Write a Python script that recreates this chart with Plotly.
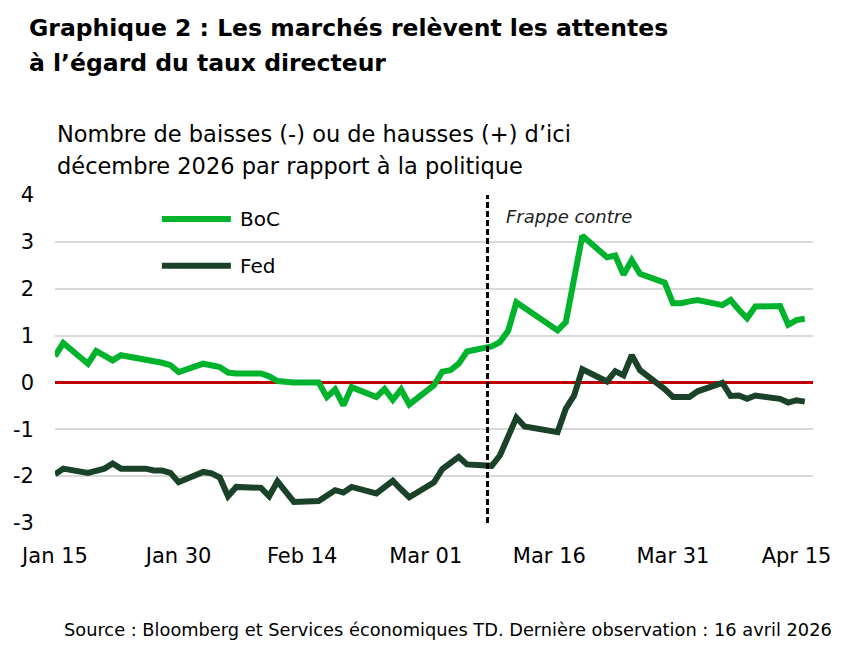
import pandas as pd
import plotly.graph_objects as go

## Données (jours ouvrables)
dates = [
    "2026-01-15", "2026-01-16", "2026-01-19", "2026-01-20", "2026-01-21", "2026-01-22", "2026-01-23",
    "2026-01-26", "2026-01-27", "2026-01-28", "2026-01-29", "2026-01-30",
    "2026-02-02", "2026-02-03", "2026-02-04", "2026-02-05", "2026-02-06",
    "2026-02-09", "2026-02-10", "2026-02-11", "2026-02-12", "2026-02-13",
    "2026-02-16", "2026-02-17", "2026-02-18", "2026-02-19", "2026-02-20",
    "2026-02-23", "2026-02-24", "2026-02-25", "2026-02-26", "2026-02-27",
    "2026-03-02", "2026-03-03", "2026-03-04", "2026-03-05", "2026-03-06",
    "2026-03-09", "2026-03-10", "2026-03-11", "2026-03-12", "2026-03-13",
    "2026-03-16", "2026-03-17", "2026-03-18", "2026-03-19", "2026-03-20",
    "2026-03-23", "2026-03-24", "2026-03-25", "2026-03-26", "2026-03-27",
    "2026-03-30", "2026-03-31", "2026-04-01", "2026-04-02", "2026-04-03",
    "2026-04-06", "2026-04-07", "2026-04-08", "2026-04-09", "2026-04-10",
    "2026-04-13", "2026-04-14", "2026-04-15", "2026-04-16",
]
boc = [
    0.56, 0.84, 0.40, 0.67, 0.57, 0.47, 0.58,
    0.48, 0.47, 0.42, 0.37, 0.22,
    0.40, 0.35, 0.33, 0.21, 0.19,
    0.19, 0.13, 0.03, 0.00, 0.00,
    0.00, -0.31, -0.15, -0.49, -0.10,
    -0.31, -0.14, -0.37, -0.15, -0.47,
    -0.06, 0.23, 0.26, 0.40, 0.66,
    0.77, 0.86, 1.10, 1.71, 1.59,
    1.23, 1.11, 1.29, 2.20, 3.13,
    2.67, 2.71, 2.30, 2.61, 2.32,
    2.13, 1.69, 1.69, 1.73, 1.76,
    1.65, 1.76, 1.55, 1.37, 1.62,
    1.63, 1.23, 1.33, 1.36,
]
fed = [
    -1.96, -1.84, -1.93, -1.89, -1.84, -1.73, -1.84,
    -1.84, -1.88, -1.88, -1.93, -2.13,
    -1.91, -1.94, -2.03, -2.43, -2.23,
    -2.25, -2.43, -2.11, -2.35, -2.55,
    -2.53, -2.41, -2.30, -2.35, -2.23,
    -2.37, -2.23, -2.10, -2.28, -2.45,
    -2.13, -1.85, -1.72, -1.59, -1.75,
    -1.78, -1.56, -1.17, -0.75, -0.94,
    -1.03, -1.06, -0.56, -0.28, 0.28,
    0.02, 0.24, 0.15, 0.58, 0.26,
    -0.14, -0.31, -0.31, -0.31, -0.19,
    -0.01, -0.29, -0.28, -0.35, -0.28,
    -0.35, -0.43, -0.38, -0.41,
]
tick_dates = ["2026-01-15", "2026-01-30", "2026-02-14", "2026-03-01", "2026-03-16", "2026-03-31", "2026-04-15"]
tick_labels = ["Jan 15", "Jan 30", "Feb 14", "Mar 01", "Mar 16", "Mar 31", "Apr 15"]
y_ticks = [-3, -2, -1, 0, 1, 2, 3, 4]
y_labels = ["-3", "-2", "-1", "0", "1", "2", "3", "4"]
strike_date = "2026-03-08 12:00"

df = pd.DataFrame({"date": pd.to_datetime(dates), "BoC": boc, "Fed": fed})

vert_clair = "#00b32c"
vert_fonce = "#1a4228"
police = "DejaVu Sans"

fig = go.Figure()
fig.add_trace(go.Scatter(x=df["date"], y=df["BoC"], name="BoC", mode="lines",
                         line=dict(color=vert_clair, width=6)))
fig.add_trace(go.Scatter(x=df["date"], y=df["Fed"], name="Fed", mode="lines",
                         line=dict(color=vert_fonce, width=6)))

## ligne verticale pointillée (frappe)
fig.add_shape(type="line", xref="x", yref="y", x0=strike_date, x1=strike_date, y0=-3, y1=4,
              line=dict(color="black", width=3, dash="6px,3px"))

## légende dessinée à la main
for nom, couleur, yy in [("BoC", vert_clair, 0.927), ("Fed", vert_fonce, 0.784)]:
    fig.add_shape(type="line", xref="paper", yref="paper", x0=0.141, x1=0.232, y0=yy, y1=yy,
                  line=dict(color=couleur, width=6))
    fig.add_annotation(text=nom, xref="paper", yref="paper", x=0.241, y=yy, showarrow=False,
                       xanchor="left", yanchor="middle", font=dict(size=20, color="black"))

annots = [
    dict(text="<b>Graphique 2 : Les marchés relèvent les attentes</b>", x=-0.037, y=1.509, size=23.5),
    dict(text="<b>à l’égard du taux directeur</b>", x=-0.037, y=1.401, size=23.5),
    dict(text="Nombre de baisses (-) ou de hausses (+) d’ici", x=0.0, y=1.185, size=22.5),
    dict(text="décembre 2026 par rapport à la politique", x=0.0, y=1.089, size=22.5),
    dict(text="Source : Bloomberg et Services économiques TD. Dernière observation : 16 avril 2026",
         x=0.009, y=-0.325, size=17.8),
]
for a in annots:
    fig.add_annotation(text=a["text"], xref="paper", yref="paper", x=a["x"], y=a["y"], showarrow=False,
                       xanchor="left", yanchor="middle", font=dict(size=a["size"], color="black"))

fig.add_annotation(text="<i>Frappe contre</i>", xref="paper", yref="paper", x=0.592, y=0.933,
                   showarrow=False, xanchor="left", yanchor="middle", font=dict(size=18, color="#222222"))

## la page html ajoute une marge de 8 px : figure 860x640 décalée
fig.update_layout(
    width=860, height=640,
    margin=dict(l=47, r=55, t=187, b=125),
    paper_bgcolor="white", plot_bgcolor="white",
    showlegend=False,
    font=dict(family=police, color="black"),
)
fig.update_xaxes(type="date", range=["2026-01-15", "2026-04-17"], automargin=False,
                 tickvals=tick_dates, ticktext=tick_labels,
                 showgrid=False, showline=False, ticks="",
                 tickfont=dict(size=21), ticklabelstandoff=18)
fig.update_yaxes(range=[-3, 4], tickvals=y_ticks, ticktext=y_labels, automargin=False,
                 showgrid=True, gridcolor="#d9d9d9", gridwidth=2,
                 zeroline=True, zerolinecolor="#c00000", zerolinewidth=2.5,
                 ticks="", tickfont=dict(size=21), ticklabelstandoff=20)

fig.write_html("out.html")
